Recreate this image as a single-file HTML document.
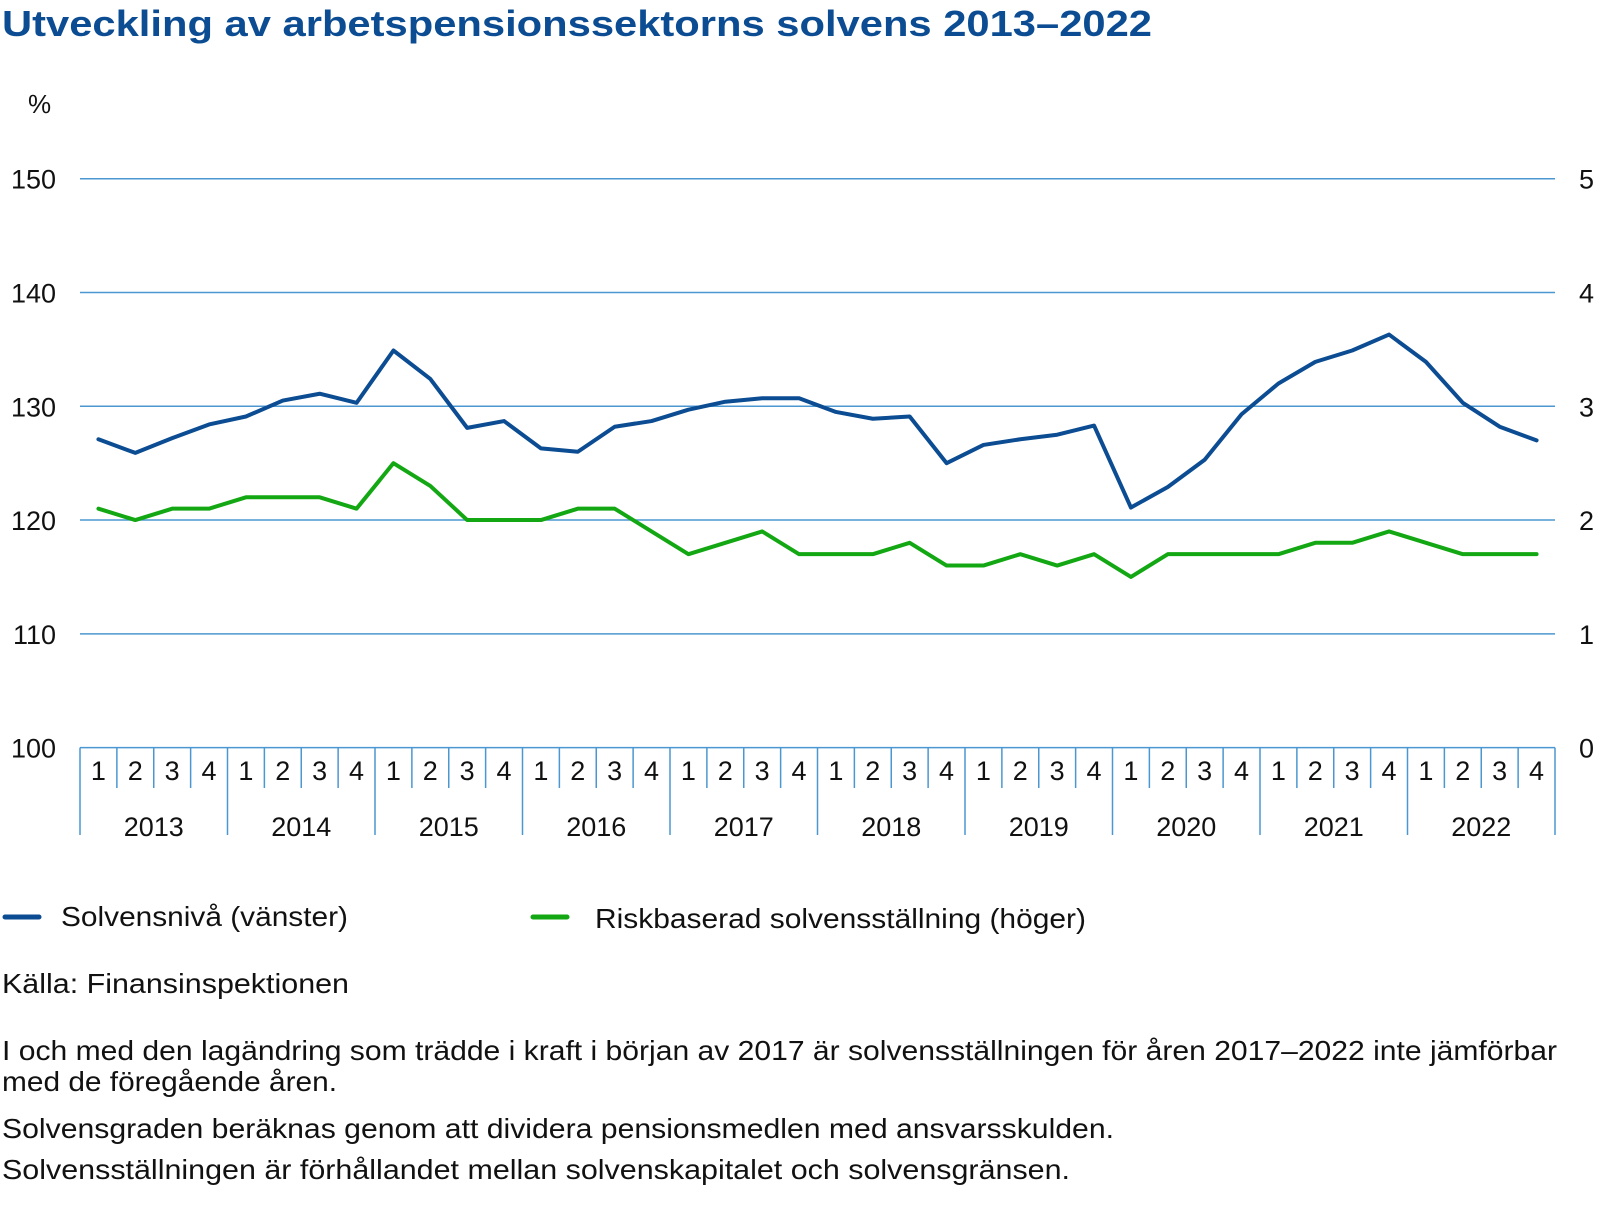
<!DOCTYPE html>
<html><head><meta charset="utf-8"><style>
html,body{margin:0;padding:0;background:#fff;}
svg{display:block;font-family:"Liberation Sans",sans-serif;}
</style></head><body>
<svg id="c" width="1600" height="1219" viewBox="0 0 1600 1219">
<text x="2" y="36" font-size="36" font-weight="bold" fill="#0b4c92" textLength="1150" lengthAdjust="spacingAndGlyphs">Utveckling av arbetspensionssektorns solvens 2013–2022</text>
<text x="28" y="113" font-size="26" fill="#111">%</text>
<g id="grid"></g><g id="xaxis"></g><g id="series"></g>
<g>
<line x1="5" y1="917" x2="39" y2="917" stroke="#0b4c92" stroke-width="5" stroke-linecap="round"/>
<text x="61" y="926" font-size="28" fill="#111" textLength="287" lengthAdjust="spacingAndGlyphs">Solvensnivå (vänster)</text>
<line x1="533" y1="917" x2="567" y2="917" stroke="#13a813" stroke-width="5" stroke-linecap="round"/>
<text x="595" y="928" font-size="28" fill="#111" textLength="491" lengthAdjust="spacingAndGlyphs">Riskbaserad solvensställning (höger)</text>
</g>
<g font-size="28" fill="#111">
<text x="2" y="993" textLength="347" lengthAdjust="spacingAndGlyphs">Källa: Finansinspektionen</text>
<text x="2" y="1060" textLength="1555" lengthAdjust="spacingAndGlyphs">I och med den lagändring som trädde i kraft i början av 2017 är solvensställningen för åren 2017–2022 inte jämförbar</text>
<text x="2" y="1091" textLength="335" lengthAdjust="spacingAndGlyphs">med de föregående åren.</text>
<text x="2" y="1138" textLength="1112" lengthAdjust="spacingAndGlyphs">Solvensgraden beräknas genom att dividera pensionsmedlen med ansvarsskulden.</text>
<text x="2" y="1179" textLength="1068" lengthAdjust="spacingAndGlyphs">Solvensställningen är förhållandet mellan solvenskapitalet och solvensgränsen.</text>
</g>
</svg>
<script>
const years=[2013,2014,2015,2016,2017,2018,2019,2020,2021,2022];
const quarters=[1,2,3,4];
const leftTicks=[100,110,120,130,140,150];
const rightTicks=[0,1,2,3,4,5];
const solvensniva=[127.1,125.9,127.2,128.4,129.1,130.5,131.1,130.3,134.9,132.4,128.1,128.7,126.3,126.0,128.2,128.7,129.7,130.4,130.7,130.7,129.5,128.9,129.1,125.0,126.6,127.1,127.5,128.3,121.1,122.9,125.3,129.3,132.0,133.9,134.9,136.3,133.9,130.3,128.2,127.0];
const riskbaserad=[2.1,2.0,2.1,2.1,2.2,2.2,2.2,2.1,2.5,2.3,2.0,2.0,2.0,2.1,2.1,1.9,1.7,1.8,1.9,1.7,1.7,1.7,1.8,1.6,1.6,1.7,1.6,1.7,1.5,1.7,1.7,1.7,1.7,1.8,1.8,1.9,1.8,1.7,1.7,1.7];

const NS="http://www.w3.org/2000/svg";
const L=80,R=1555,T=178.7,B=747.6;
const n=years.length*quarters.length;
const step=(R-L)/n;
const xq=i=>L+step*(i+0.5);
const yL=v=>B-(v-100)/50*(B-T);
const yR=v=>B-v/5*(B-T);
function mk(tag,attrs,parent,txt){const e=document.createElementNS(NS,tag);for(const k in attrs)e.setAttribute(k,attrs[k]);if(txt!==undefined)e.textContent=txt;parent.appendChild(e);return e;}
const grid=document.getElementById('grid'),xa=document.getElementById('xaxis'),se=document.getElementById('series');
leftTicks.forEach((v,i)=>{
  const y=yL(v);
  const ln=mk('line',{x1:L,x2:R,y1:y,y2:y,stroke:'#4b97d1','stroke-width':1.5},grid);
  
  
  const t=mk('text',{x:56,y:y+10,'font-size':27,fill:'#111','text-anchor':'end'},grid,String(v));
  
  
});
rightTicks.forEach(v=>{
  const y=yR(v);
  const t=mk('text',{x:1594,y:y+10,'font-size':27,fill:'#111','text-anchor':'end'},grid,String(v));
  
  
});
for(let i=0;i<=n;i++){
  const x=L+step*i;
  const isYear=i%4===0;
  const ln=mk('line',{x1:x,x2:x,y1:B,y2:isYear?835:788,stroke:'#4b97d1','stroke-width':1.5},xa);
  
  
}
years.forEach((yr,yi)=>{
  quarters.forEach((q,qi)=>{
    const i=yi*4+qi;
    const t=mk('text',{x:xq(i),y:780,'font-size':27,fill:'#111','text-anchor':'middle'},xa,String(q));
    
    
  });
  const t=mk('text',{x:L+step*(yi*4+2),y:836,'font-size':27,fill:'#111','text-anchor':'middle'},xa,String(yr));
  
  
});
const p1=mk('polyline',{points:riskbaserad.map((v,i)=>xq(i)+','+yR(v)).join(' '),fill:'none',stroke:'#13a813','stroke-width':4,'stroke-linejoin':'round','stroke-linecap':'round'},se);


const p2=mk('polyline',{points:solvensniva.map((v,i)=>xq(i)+','+yL(v)).join(' '),fill:'none',stroke:'#0b4c92','stroke-width':4,'stroke-linejoin':'round','stroke-linecap':'round'},se);


</script>
</body></html>
